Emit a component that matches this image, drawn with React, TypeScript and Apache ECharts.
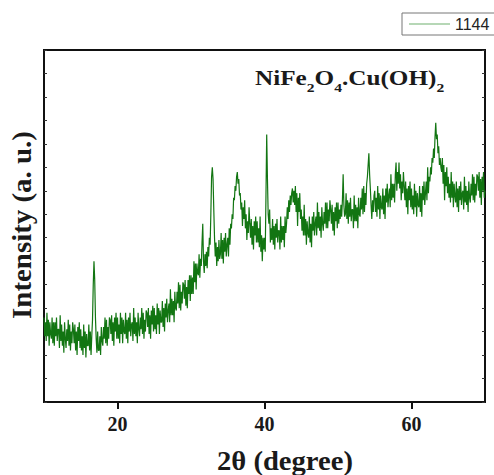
import React, { useEffect, useRef } from "react";
import * as echarts from "echarts";

const seriesName = "1144";
const startAngle = 10;
const stepAngle = 0.1;
// one row per degree, 10 readings per row (10.0 ... 69.9), then 70.0
const intensity: number[] = [
  36, 28, 34, 26, 38, 28, 35, 24, 34, 29,
  27, 36, 25, 34, 24, 34, 28, 36, 26, 31,
  31, 23, 37, 26, 33, 24, 30, 21, 34, 27,
  23, 31, 26, 35, 24, 33, 22, 30, 25, 34,
  31, 25, 33, 22, 30, 20, 32, 26, 34, 23,
  31, 22, 28, 20, 33, 23, 30, 19, 29, 24,
  24, 33, 22, 30, 20, 28, 35, 50, 60, 52,
  36, 27, 21, 30, 22, 22, 28, 20, 32, 26,
  24, 32, 27, 36, 25, 35, 24, 32, 27, 36,
  35, 29, 37, 26, 34, 24, 36, 30, 38, 27,
  36, 27, 33, 25, 38, 29, 36, 25, 35, 30,
  29, 38, 27, 35, 25, 36, 30, 38, 28, 33,
  34, 26, 40, 29, 36, 28, 34, 25, 38, 31,
  28, 36, 31, 40, 29, 38, 27, 35, 30, 39,
  38, 32, 40, 29, 37, 27, 39, 33, 41, 30,
  40, 31, 37, 29, 42, 33, 40, 29, 39, 34,
  34, 43, 32, 40, 30, 42, 36, 44, 34, 39,
  42, 34, 48, 37, 44, 37, 43, 34, 47, 40,
  39, 47, 42, 51, 40, 50, 39, 47, 42, 51,
  50, 44, 52, 41, 49, 40, 52, 46, 54, 43,
  54, 46, 53, 46, 60, 51, 59, 48, 59, 55,
  54, 63, 53, 61, 58, 68, 76, 60, 55, 63,
  58, 64, 57, 66, 62, 70, 67, 80, 96, 100,
  95, 82, 70, 62, 68, 58, 66, 60, 69, 61,
  63, 72, 61, 69, 59, 70, 64, 72, 62, 67,
  70, 62, 74, 67, 76, 74, 80, 78, 87, 86,
  92, 90, 96, 98, 93, 95, 88, 89, 82, 85,
  75, 83, 78, 86, 74, 80, 69, 77, 72, 83,
  76, 70, 78, 67, 75, 65, 77, 71, 79, 68,
  77, 68, 74, 66, 79, 64, 71, 60, 70, 65,
  70, 64, 88, 114, 95, 80, 76, 82, 68, 74,
  69, 78, 67, 75, 65, 76, 70, 78, 68, 73,
  73, 65, 79, 68, 75, 69, 75, 66, 79, 72,
  76, 83, 78, 86, 81, 88, 84, 89, 91, 85,
  90, 84, 92, 81, 89, 75, 87, 81, 89, 78,
  82, 73, 79, 71, 84, 71, 78, 67, 77, 72,
  70, 79, 68, 76, 66, 79, 73, 81, 71, 76,
  79, 71, 85, 74, 81, 73, 79, 70, 83, 76,
  73, 81, 76, 85, 74, 85, 74, 82, 77, 86,
  82, 76, 84, 73, 81, 71, 83, 77, 85, 74,
  85, 76, 82, 78, 84, 79, 86, 97, 84, 79,
  80, 89, 78, 86, 76, 85, 79, 87, 77, 82,
  82, 74, 88, 77, 84, 77, 83, 74, 87, 80,
  79, 87, 82, 91, 80, 92, 81, 89, 84, 93,
  96, 101, 106, 97, 91, 84, 78, 86, 81, 88,
  90, 81, 87, 79, 92, 82, 89, 78, 88, 83,
  82, 91, 80, 88, 78, 91, 85, 93, 83, 88,
  91, 83, 97, 86, 93, 87, 93, 85, 97, 102,
  90, 98, 93, 102, 91, 97, 86, 94, 89, 98,
  92, 86, 94, 83, 91, 80, 92, 86, 94, 83,
  91, 82, 88, 80, 93, 83, 90, 79, 89, 84,
  83, 92, 81, 89, 79, 92, 86, 94, 84, 89,
  94, 86, 100, 89, 96, 94, 100, 97, 104, 102,
  108, 104, 113, 119, 112, 114, 106, 109, 101, 104,
  100, 98, 104, 93, 101, 86, 98, 92, 100, 89,
  96, 87, 93, 85, 98, 87, 94, 83, 93, 88,
  85, 94, 83, 91, 81, 92, 86, 94, 84, 89,
  90, 82, 96, 85, 92, 84, 90, 81, 94, 87,
  85, 93, 88, 97, 86, 96, 85, 93, 88, 97,
  96, 90, 98, 87, 95, 84, 96, 90, 98, 87,
  90,
];
const xTicks = [20, 40, 60];
const xMin = 10;
const xMax = 70;
const yMin = 0;
const yMax = 150;
const yInterval = 10;

const serif = "'Liberation Serif', 'Times New Roman', serif";

export default function App() {
  const ref = useRef<HTMLDivElement>(null);
  useEffect(() => {
    if (!ref.current) return;
    const chart = echarts.init(ref.current, undefined, { renderer: "svg" });
    const data = intensity.map((v, i) => [
      +(startAngle + i * stepAngle).toFixed(2),
      v,
    ]);
    chart.setOption({
      animation: false,
      backgroundColor: "#ffffff",
      grid: {
        left: 44,
        right: 9,
        top: 50,
        bottom: 73,
        show: true,
        borderColor: "#111",
        borderWidth: 2,
        containLabel: false,
      },
      legend: {
        show: true,
        left: 402,
        top: 13,
        padding: [3, 14, 3, 7],
        itemWidth: 41,
        itemHeight: 1,
        itemGap: 5,
        borderColor: "#777",
        borderWidth: 1,
        borderRadius: 0,
        itemStyle: { color: "#6fb06f" },
        textStyle: {
          fontFamily: "'Liberation Sans', Arial, sans-serif",
          fontSize: 16,
          color: "#222",
          lineHeight: 16,
        },
        data: [{ name: seriesName, icon: "rect" }],
      },
      xAxis: {
        type: "value",
        min: xMin,
        max: xMax,
        splitLine: { show: false },
        axisLine: { show: true, lineStyle: { color: "#111", width: 2 } },
        axisTick: {
          show: true,
          inside: false,
          length: 7,
          lineStyle: { color: "#111", width: 2 },
          customValues: xTicks,
        },
        axisLabel: {
          customValues: xTicks,
          margin: 12,
          fontFamily: serif,
          fontWeight: "bold",
          fontSize: 20,
          color: "#1a1a1a",
        },
      },
      yAxis: [
        {
          type: "value",
          min: yMin,
          max: yMax,
          interval: yInterval,
          position: "left",
          splitLine: { show: false },
          axisLine: { show: true, lineStyle: { color: "#111", width: 2 } },
          axisTick: {
            show: true,
            inside: true,
            length: 3,
            lineStyle: { color: "#333", width: 1 },
          },
          axisLabel: { show: false },
        },
        {
          type: "value",
          min: yMin,
          max: yMax,
          interval: yInterval,
          position: "right",
          splitLine: { show: false },
          axisLine: { show: true, lineStyle: { color: "#111", width: 2 } },
          axisTick: {
            show: true,
            inside: true,
            length: 3,
            lineStyle: { color: "#333", width: 1 },
          },
          axisLabel: { show: false },
        },
      ],
      series: [
        {
          name: seriesName,
          type: "line",
          data,
          yAxisIndex: 0,
          symbol: "none",
          lineStyle: { color: "#127512", width: 1.2 },
          itemStyle: { color: "#127512" },
        },
      ],
      graphic: [
        {
          type: "text",
          x: 22,
          y: 225,
          rotation: Math.PI / 2,
          scaleX: 1.07,
          style: {
            text: "Intensity (a. u.)",
            font: `bold 27px ${serif}`,
            fill: "#1a1a1a",
            textAlign: "center",
            textVerticalAlign: "middle",
          },
        },
        {
          type: "text",
          x: 285,
          y: 461,
          scaleX: 1.06,
          style: {
            text: "2θ (degree)",
            font: `bold 27px ${serif}`,
            fill: "#1a1a1a",
            textAlign: "center",
            textVerticalAlign: "middle",
          },
        },
        {
          type: "text",
          x: 255,
          y: 88,
          scaleX: 1.2,
          style: {
            text: "{m|NiFe}{s|2}{m|O}{s|4}{m|.Cu(OH)}{s|2}",
            textVerticalAlign: "bottom",
            fill: "#1a1a1a",
            rich: {
              m: {
                fontFamily: serif,
                fontWeight: "bold",
                fontSize: 21,
                fill: "#1a1a1a",
                verticalAlign: "bottom",
              },
              s: {
                fontFamily: serif,
                fontWeight: "bold",
                fontSize: 13,
                fill: "#1a1a1a",
                verticalAlign: "bottom",
                padding: [0, 0, -6, 0],
              },
            },
          },
        },
      ],
    });
    return () => chart.dispose();
  }, []);
  return (
    <div
      ref={ref}
      style={{ position: "fixed", left: 0, top: 0, width: 494, height: 475 }}
    />
  );
}
